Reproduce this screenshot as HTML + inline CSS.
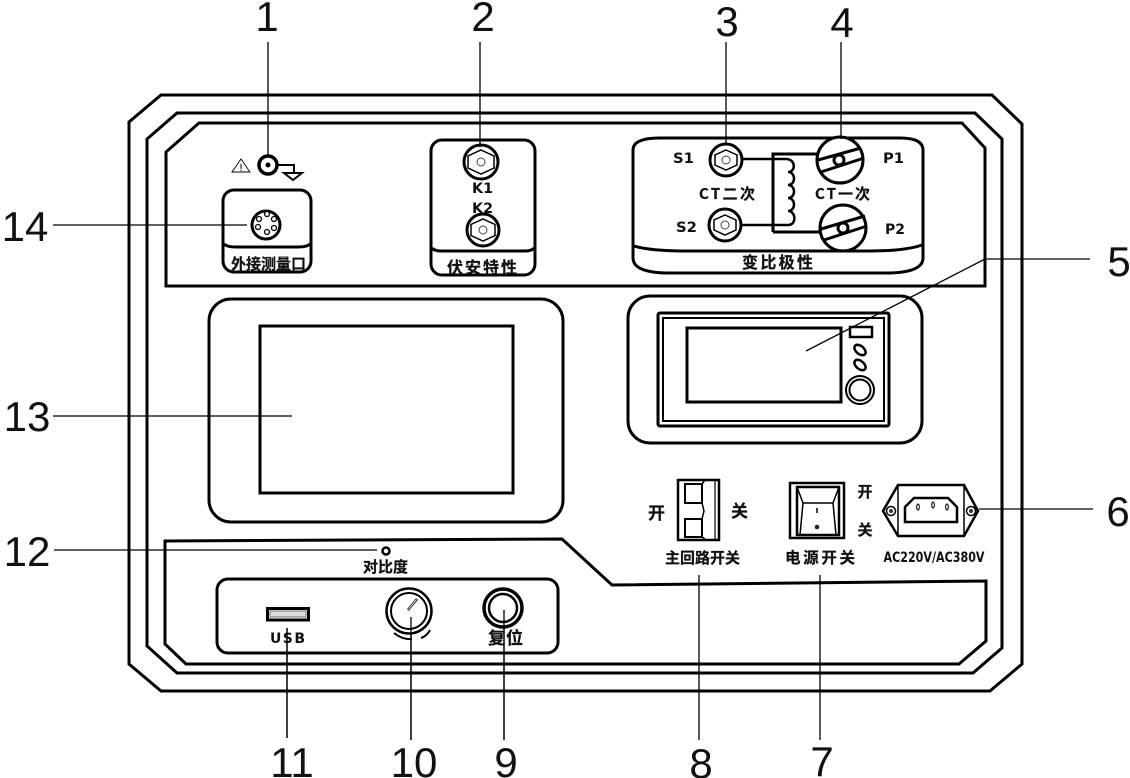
<!DOCTYPE html>
<html><head><meta charset="utf-8"><style>
html,body{margin:0;padding:0;background:#fff}
svg{display:block}
.n{font:42px "Liberation Sans",sans-serif;fill:#111;text-anchor:middle}
.t{font-family:"Noto Sans CJK SC",sans-serif;font-weight:700;fill:#111;text-anchor:middle;stroke:#111;stroke-width:.25}
.d{font-family:"DejaVu Sans",sans-serif;font-weight:700;fill:#111;text-anchor:middle;font-size:14px}
.s{fill:none;stroke:#000;stroke-width:3}
.w{fill:#fff;stroke:#000;stroke-width:3}
.l{stroke:#000;stroke-width:1.3;fill:none}
</style></head><body>
<svg width="1130" height="778" viewBox="0 0 1130 778" xmlns="http://www.w3.org/2000/svg">
<rect width="1130" height="778" fill="#fff"/>
<polygon class="s" points="161,95 992,95 1022,124 1022,664 990,691 161,691 129,664 129,122"/>
<polygon class="s" points="177,113 975,113 1002,139 1002,648 973,673 177,673 147,646 147,139"/>
<polygon class="s" points="199,123 962,123 985,148 985,286 166,286 166,152"/>
<polygon class="s" points="165,541 562,539 612,585 986,581 986,641 959,664 186,664 165,644"/>

<!-- numbers -->
<text class="n" x="267" y="31">1</text>
<text class="n" x="483" y="31">2</text>
<text class="n" x="727" y="36">3</text>
<text class="n" x="842" y="37">4</text>
<text class="n" x="1119" y="276">5</text>
<text class="n" x="1118" y="526">6</text>
<text class="n" x="822" y="776">7</text>
<text class="n" x="701" y="778">8</text>
<text class="n" x="506" y="777">9</text>
<text class="n" x="414" y="777">10</text>
<text class="n" x="292" y="777">11</text>
<text class="n" x="27" y="566">12</text>
<text class="n" x="27" y="431">13</text>
<text class="n" x="25" y="241">14</text>

<!-- ground -->
<path d="M232,172L241,159L250,172Z" fill="none" stroke="#000" stroke-width=".9"/>
<path d="M241,164V169M241,170V171" stroke="#000" stroke-width="1"/>
<circle cx="268" cy="165" r="9" fill="#fff" stroke="#000" stroke-width="3.500"/>
<circle cx="268" cy="165" r="2.500" fill="#000"/>
<path d="M278,165H294V173M284,173H302L293,180Z" fill="none" stroke="#000" stroke-width="2"/>

<!-- external port -->
<rect class="s" x="223" y="190" width="88" height="82" rx="11"/>
<path class="s" d="M224,244Q227,247 236,247H298Q307,247 310,244"/>
<circle cx="266" cy="225" r="14" fill="#fff" stroke="#000" stroke-width="3"/>
<g fill="#fff" stroke="#000" stroke-width="1.300">
<circle cx="267" cy="214" r="2.500"/><circle cx="274" cy="219" r="2.500"/><circle cx="259" cy="219" r="2.500"/><circle cx="258" cy="227" r="2.500"/><circle cx="274" cy="228" r="2.500"/><circle cx="267" cy="232" r="2.500"/>
</g>
<text class="t" x="268.500" y="269" font-size="15" textLength="75">外接测量口</text>

<!-- KV -->
<rect class="s" x="431" y="140" width="104" height="135" rx="11"/>
<path class="s" d="M432,248Q434,251 442,251H524Q532,251 534,248"/>
<circle cx="481" cy="162" r="17" class="w"/>
<polygon points="481,150 494,156 494,168 481,174 468,168 468,156" fill="none" stroke="#000" stroke-width="1.500"/>
<circle cx="481" cy="162" r="4" fill="none" stroke="#444" stroke-width="1"/>
<circle cx="483" cy="230" r="16" class="w"/>
<polygon points="483,219 495,224.500 495,235.500 483,241 471,235.500 471,224.500" fill="none" stroke="#000" stroke-width="1.500"/>
<circle cx="483" cy="230" r="4" fill="none" stroke="#444" stroke-width="1"/>
<text class="d" x="482.500" y="193" textLength="21" lengthAdjust="spacingAndGlyphs">K1</text>
<text class="d" x="482.500" y="213" textLength="21" lengthAdjust="spacingAndGlyphs">K2</text>
<text class="t" x="482" y="273" font-size="16" textLength="70">伏安特性</text>

<!-- ratio polarity -->
<path class="s" d="M633,150Q633,138 660,138H900Q923,138 923,150V258Q923,272 890,273H665Q633,272 633,258Z"/>
<path class="s" d="M634,246Q650,251 690,251H870Q905,251 922,245"/>
<path d="M773,232V154H820M773,232H822" fill="none" stroke="#000" stroke-width="3"/>
<path d="M741,159H786C796,159 796,172 788,172C796,172 796,185 788,185C796,185 796,198 788,198C796,198 796,211 788,211C796,211 797,225 788,225H741" fill="none" stroke="#000" stroke-width="2.500"/>
<circle cx="726" cy="160" r="16" class="w"/>
<polygon points="726,150 737,155 737,165 726,170 715,165 715,155" fill="none" stroke="#000" stroke-width="1.500"/>
<circle cx="726" cy="160" r="4" fill="none" stroke="#444" stroke-width="1"/>
<circle cx="725" cy="225" r="16" class="w"/>
<polygon points="725,215 736,220 736,230 725,235 714,230 714,220" fill="none" stroke="#000" stroke-width="1.500"/>
<circle cx="725" cy="225" r="4" fill="none" stroke="#444" stroke-width="1"/>
<circle cx="840" cy="160" r="23" class="w"/>
<path d="M818,160L861,148M821,172L864,158" stroke="#000" stroke-width="3"/>
<circle cx="839" cy="160" r="5" class="w"/>
<circle cx="843" cy="228" r="23" class="w"/>
<path d="M821,229L865,216M824,240L867,226" stroke="#000" stroke-width="3"/>
<circle cx="843" cy="228" r="5" class="w"/>
<text class="d" x="683.500" y="163" textLength="21" lengthAdjust="spacingAndGlyphs">S1</text>
<text class="d" x="686.500" y="232" textLength="21" lengthAdjust="spacingAndGlyphs">S2</text>
<text class="d" x="893.500" y="163" textLength="21" lengthAdjust="spacingAndGlyphs">P1</text>
<text class="d" x="895" y="234" textLength="20" lengthAdjust="spacingAndGlyphs">P2</text>
<text class="t" x="727" y="199" font-size="15" textLength="56">CT二次</text>
<text class="t" x="842.500" y="199" font-size="15" textLength="55">CT一次</text>
<text class="t" x="777.500" y="268" font-size="16" textLength="71">变比极性</text>

<!-- screen -->
<rect class="s" x="209" y="299" width="354" height="223" rx="22"/>
<rect class="s" x="260" y="326" width="253" height="167"/>

<!-- meter -->
<rect class="s" x="628" y="296" width="294" height="147" rx="22"/>
<rect x="658" y="313" width="231" height="113" rx="2" fill="none" stroke="#000" stroke-width="3"/>
<rect x="663" y="318" width="221" height="103" fill="none" stroke="#000" stroke-width="2"/>
<rect class="s" x="687" y="328" width="154" height="74"/>
<rect x="850" y="327" width="22" height="10" fill="#fff" stroke="#000" stroke-width="2.500"/>
<ellipse cx="860" cy="350" rx="6.500" ry="4" transform="rotate(40 860 350)" fill="#fff" stroke="#000" stroke-width="2.500"/>
<ellipse cx="860" cy="365" rx="6.500" ry="4" transform="rotate(40 860 365)" fill="#fff" stroke="#000" stroke-width="2.500"/>
<circle cx="860" cy="390" r="14" fill="#fff" stroke="#000" stroke-width="2"/>
<circle cx="860" cy="390" r="10.500" fill="#fff" stroke="#000" stroke-width="2"/>

<!-- leader lines -->
<g class="l">
<path d="M268,42V155M480,42V147M726,42V145M841,42V139"/>
<path d="M1090,259H985L806,351"/>
<path d="M979,509H1093"/>
<path d="M820,575V740M699,575V740M504,610V740M411,617V740M287,628V738"/>
<path d="M54,550H377M53,416H292M53,225H247"/>
</g>

<!-- main switch -->
<rect x="678" y="480" width="41" height="60" fill="#fff" stroke="#000" stroke-width="2.500"/>
<path d="M685,484H702V503H685ZM685,519H702V537H685Z" fill="none" stroke="#000" stroke-width="2"/>
<path d="M702,484L705,480M702,503L704,511L702,519M702,537L705,539" fill="none" stroke="#000" stroke-width="1.500"/>
<path d="M715,481V539" stroke="#000" stroke-width="1.200"/>
<text class="t" x="656.500" y="519" font-size="17">开</text>
<text class="t" x="739.500" y="517" font-size="17">关</text>
<text class="t" x="702.500" y="563" font-size="15" textLength="75">主回路开关</text>

<!-- power switch -->
<rect x="790" y="483" width="54" height="55" fill="#fff" stroke="#000" stroke-width="2.500"/>
<rect x="797" y="487" width="42" height="48" fill="none" stroke="#000" stroke-width="2.500"/>
<path d="M797,487L803,503L800,535M839,487L833,503L836,535M803,503H833" fill="none" stroke="#000" stroke-width="1.500"/>
<path d="M817,508V513" stroke="#000" stroke-width="1.500"/>
<circle cx="817" cy="527" r="2.300" fill="#222"/>
<text class="t" x="865" y="497" font-size="15">开</text>
<text class="t" x="865" y="535" font-size="15">关</text>
<text class="t" x="820" y="563" font-size="15.500" textLength="70">电源开关</text>

<!-- power socket -->
<path d="M898,485H964L978,511L964,536H898L883,511Z" fill="#fff" stroke="#000" stroke-width="2.500"/>
<path d="M898,485V536M964,485V536" stroke="#000" stroke-width="1.500"/>
<path d="M905,507L914,498H948L957,507V522H905Z" fill="#fff" stroke="#000" stroke-width="2.500"/>
<circle cx="891" cy="511" r="4.500" class="w" style="stroke-width:1.500"/><circle cx="891" cy="511" r="2" fill="#333"/>
<circle cx="971" cy="511" r="4.500" class="w" style="stroke-width:1.500"/><circle cx="971" cy="511" r="2" fill="#333"/>
<g fill="none" stroke="#000" stroke-width="1"><ellipse cx="918" cy="507" rx="1.300" ry="3"/><ellipse cx="933" cy="505" rx="1.300" ry="3"/><ellipse cx="947" cy="507" rx="1.300" ry="3"/></g>
<text class="d" x="934" y="562" style="font-size:14px" textLength="101" lengthAdjust="spacingAndGlyphs">AC220V/AC380V</text>

<!-- contrast -->
<circle cx="386" cy="551" r="3.500" fill="#fff" stroke="#000" stroke-width="2.500"/>
<text class="t" x="385.500" y="572" font-size="15" textLength="45">对比度</text>

<!-- bottom ctrl -->
<rect class="s" x="217" y="579" width="341" height="74" rx="11"/>
<rect x="267.500" y="608.500" width="41" height="11.500" fill="#fff" stroke="#000" stroke-width="3"/>
<rect x="270" y="611" width="36" height="6" fill="#ddd" stroke="#555" stroke-width=".8"/>
<text class="d" x="287.500" y="643" textLength="35">USB</text>
<circle cx="409" cy="611" r="22.500" fill="#fff" stroke="#000" stroke-width="2.500"/>
<circle cx="409" cy="611" r="18" fill="#fff" stroke="#000" stroke-width="2"/>
<path d="M408,610L417,599" stroke="#000" stroke-width="2.500"/>
<path d="M408.500,609.500L416.500,599.500" stroke="#fff" stroke-width="1"/>
<path d="M394,633Q403,640 412,639M421,638Q427,636 430,630" fill="none" stroke="#000" stroke-width="2"/>
<circle cx="503" cy="608" r="19" fill="#fff" stroke="#000" stroke-width="3.500"/>
<circle cx="503" cy="608" r="14" fill="#fff" stroke="#000" stroke-width="2.500"/>
<text class="t" x="505.500" y="644" font-size="17" textLength="35">复位</text>
<path class="l" d="M287,628V738M411,617V740M504,610V740"/>
</svg>
</body></html>
